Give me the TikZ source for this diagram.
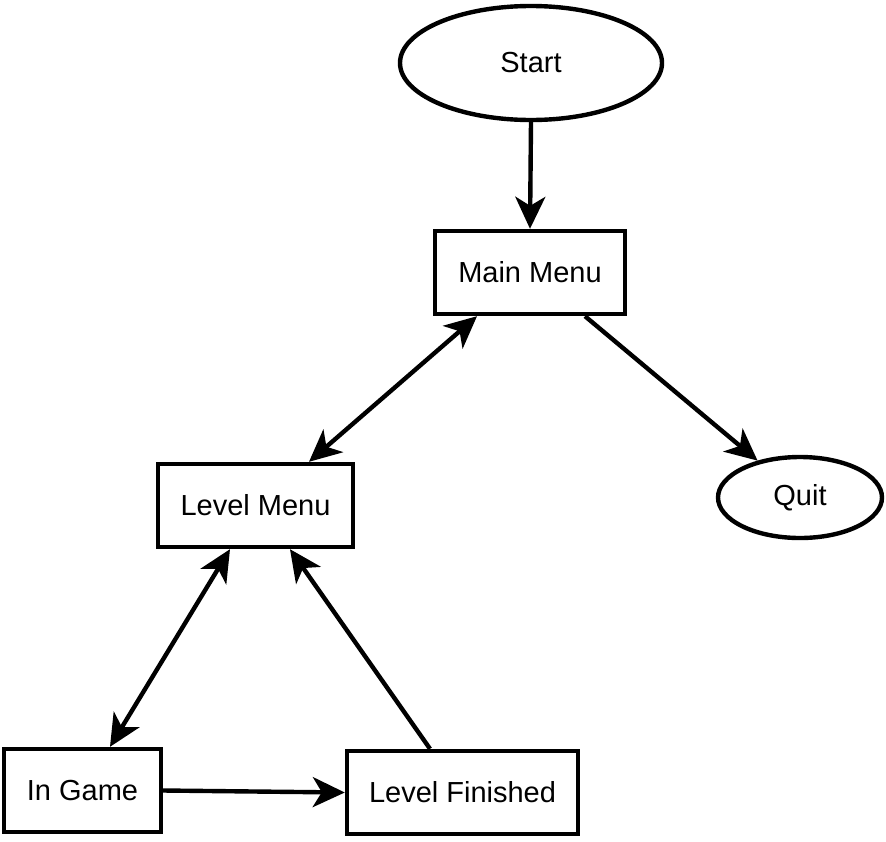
\documentclass[tikz,border=0pt]{standalone}
\usepackage{fontspec}
\setmainfont{Liberation Sans}
\usetikzlibrary{arrows.meta,positioning,shapes.geometric}

\begin{document}
\begin{tikzpicture}[x=1pt,y=-1pt,>={Stealth[length=32pt,width=30pt,inset=9pt]},
  statebox/.style={draw,line width=4.4pt,minimum height=83pt,inner sep=0pt,font=\fontsize{29}{34}\selectfont},
  endstate/.style={draw,ellipse,line width=4.4pt,inner sep=0pt,font=\fontsize{29}{34}\selectfont},
  flow/.style={line width=4.4pt}]
\useasboundingbox (0,0) rectangle (886,841);
% states
\node[endstate,minimum width=262pt,minimum height=114pt] (start) at (531,63) {Start};
\node[statebox,minimum width=190pt] (mainmenu) at (530,272.5) {Main Menu};
\node[endstate,minimum width=164pt,minimum height=81pt] (quit) at (800,497.5) {Quit};
\node[statebox,minimum width=195pt] (levelmenu) at (255.5,505.5) {Level Menu};
\node[statebox,minimum width=157pt] (ingame) at (82.5,790.5) {In Game};
\node[statebox,minimum width=231pt] (levelfin) at (462.5,792.5) {Level Finished};
% transitions
\draw[flow,->] (start.south) -- (mainmenu.north);
\draw[flow,<->] ([xshift=-53pt]mainmenu.south) -- ([xshift=53.5pt]levelmenu.north);
\draw[flow,->] ([xshift=55pt]mainmenu.south) -- (quit.139);
\draw[flow,<->] ([xshift=-25.5pt]levelmenu.south) -- ([xshift=27.5pt]ingame.north);
\draw[flow,->] ([xshift=-32.5pt]levelfin.north) -- ([xshift=34.5pt]levelmenu.south);
\draw[flow,->] (ingame.east) -- (levelfin.west);
\end{tikzpicture}
\end{document}
